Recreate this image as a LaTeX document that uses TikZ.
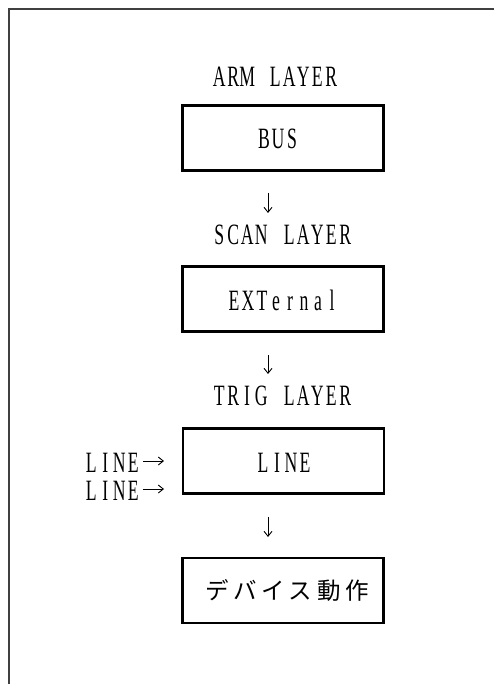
\documentclass[tikz,border=0pt]{standalone}
\usepackage{fontspec}
\usetikzlibrary{arrows.meta}
\newfontfamily\pfont{Liberation Serif}[FakeStretch=0.6]
\newfontfamily\jfont{Noto Sans CJK JP}[LetterSpace=20]
\newlength\cellw \setlength\cellw{14pt}
\def\monoloop#1{\ifx#1\relax\else\makebox[\cellw]{#1}\expandafter\monoloop\fi}
\newcommand\mono[1]{\monoloop#1\relax}
\tikzset{
  layerlabel/.style={anchor=west, inner sep=0pt, font=\pfont\fontsize{29.5}{31}\selectfont},
  boxtext/.style={inner sep=0pt, font=\pfont\fontsize{29.5}{31}\selectfont},
  layerbox/.style={draw, line width=2.2pt, minimum width=201pt, minimum height=65pt, inner sep=0pt},
  flow/.style={line width=0.9pt, -{Straight Barb[length=5pt,width=8pt]}},
  frameline/.style={line width=1.4pt, draw=black!75}
}
\begin{document}
\begin{tikzpicture}[x=1pt,y=-1pt]
\useasboundingbox (0,0) rectangle (494,684);
% outer frame (partial)
\coordinate (fbl) at (9,684);
\coordinate (ftl) at (9,9);
\coordinate (ftr) at (494,9);
\draw[frameline] (fbl) -- (ftl) -- (ftr);

% layer labels
\node[layerlabel] (arm)  at (212,77)  {\mono{ARM~LAYER}};
\node[layerlabel] (scan) at (212,235) {\mono{SCAN~LAYER}};
\node[layerlabel] (trig) at (212,396) {\mono{TRIG~LAYER}};

% boxes
\node[layerbox] (bus)  at (283,138) {};
\node[boxtext]  (bust) at (278,139) {\mono{BUS}};
\node[layerbox] (ext)  at (283,299) {};
\node[boxtext]  (extt) at (283,300) {\mono{EXTernal}};
\node[layerbox] (line) at (283.5,461) {};
\node[boxtext]  (linet) at (284,463) {\mono{LINE}};
\node[layerbox] (dev)  at (283,590.5) {};
\node[inner sep=0pt, font=\jfont\fontsize{23.5}{25}\selectfont] (devt) at (287,590) {デバイス動作};

% left inputs
\node[boxtext, anchor=west] (in1) at (84,463) {\mono{LINE}};
\node[boxtext, anchor=west] (in2) at (84,491) {\mono{LINE}};
\coordinate (in1s) at (143,461);
\coordinate (in2s) at (143,489);
\coordinate (in1e) at (164,461);
\coordinate (in2e) at (164,489);
\draw[flow] (in1s) -- (in1e);
\draw[flow] (in2s) -- (in2e);

% vertical arrows
\coordinate (a1s) at (268,193); \coordinate (a1e) at (268,213);
\coordinate (a2s) at (268,355); \coordinate (a2e) at (268,374);
\coordinate (a3s) at (268,517); \coordinate (a3e) at (268,537);
\draw[flow] (a1s) -- (a1e);
\draw[flow] (a2s) -- (a2e);
\draw[flow] (a3s) -- (a3e);
\end{tikzpicture}
\end{document}
